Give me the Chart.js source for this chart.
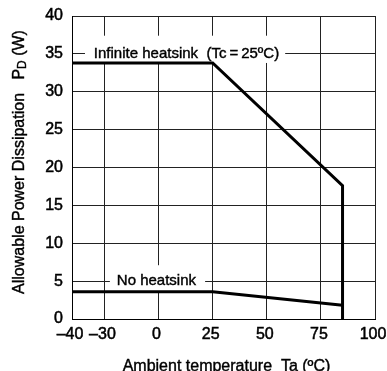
<!DOCTYPE html>
<html>
<head>
<meta charset="utf-8">
<script src="https://cdn.jsdelivr.net/npm/chart.js@4.4.0/dist/chart.umd.min.js"></script>
<style>
html, body { margin: 0; padding: 0; background: #fff; }
#wrap { width: 387px; height: 371px; }
</style>
</head>
<body>
<div id="wrap"><canvas id="deratingChart"></canvas></div>
<script>
// Axis ticks (the "-30" gridline sits at the -25 position in the original sheet)
const tickValues = [-40, -25, 0, 25, 50, 75, 100];
const tickLabels = ['–40', '–30', '0', '25', '50', '75', '100'];

// Curves
const infiniteTemp = [-40, 25, 85, 85];
const infinitePower = [33.8, 33.8, 17.6, 0];
const noSinkTemp = [-40, 25, 85];
const noSinkPower = [3.6, 3.6, 1.8];

const FONT = '"Liberation Sans", Arial, Helvetica, sans-serif';

// curve labels, anchored in data units; box = [xFrom, xTo, yTop, yBottom]
const curveNotes = [
    { text: 'Infinite heatsink  (Tc\u2009=\u200925ºC)', x: 12.9, y: 35, box: [-34, 58.5, 37.4, 33.8] },
    { text: 'No heatsink', x: -1, y: 5, box: [-22.5, 21.5, 7.1, 3.6] }
];

function toPoints(xs, ys) {
    return xs.map((x, i) => ({ x: x, y: ys[i] }));
}

// fill + thin stroke so the text reads as heavy as the scanned sheet
function boldText(ctx, text, x, y) {
    ctx.fillText(text, x, y);
    ctx.strokeText(text, x, y);
}

const notesPlugin = {
    id: 'notes',
    beforeDatasetsDraw(chart) {
        const { ctx, scales: { x, y } } = chart;
        ctx.save();
        ctx.fillStyle = '#fff';
        curveNotes.forEach(n => {
            const x0 = x.getPixelForValue(n.box[0]);
            const x1 = x.getPixelForValue(n.box[1]);
            const y0 = y.getPixelForValue(n.box[2]);
            const y1 = y.getPixelForValue(n.box[3]);
            ctx.fillRect(x0, y0, x1 - x0, y1 - y0);
        });
        ctx.restore();
    },
    afterDatasetsDraw(chart) {
        const { ctx, scales: { x, y } } = chart;
        ctx.save();
        ctx.fillStyle = '#000';
        ctx.strokeStyle = '#000';
        ctx.lineWidth = 0.4;
        ctx.font = '15px ' + FONT;
        ctx.textAlign = 'center';
        ctx.textBaseline = 'middle';
        curveNotes.forEach(n => {
            boldText(ctx, n.text, x.getPixelForValue(n.x), y.getPixelForValue(n.y));
        });
        ctx.restore();
    },
    afterDraw(chart) {
        const { ctx, chartArea } = chart;
        ctx.save();
        ctx.fillStyle = '#000';
        ctx.strokeStyle = '#000';
        ctx.lineWidth = 0.4;
        ctx.font = '16px ' + FONT;

        // x title
        ctx.textAlign = 'center';
        ctx.textBaseline = 'alphabetic';
        boldText(ctx, 'Ambient temperature  Ta (ºC)', (chartArea.left + chartArea.right) / 2 + 3, 371);

        // y title with subscript D
        const parts = ['Allowable Power Dissipation   P', 'D', ' (W)'];
        ctx.translate(20, 162);
        ctx.rotate(-Math.PI / 2);
        ctx.textAlign = 'left';
        ctx.textBaseline = 'middle';
        ctx.font = '16px ' + FONT;
        const w0 = ctx.measureText(parts[0]).width;
        const w2 = ctx.measureText(parts[2]).width;
        ctx.font = '12px ' + FONT;
        const w1 = ctx.measureText(parts[1]).width;
        let cx = -(w0 + w1 + w2) / 2;
        ctx.font = '16px ' + FONT;
        boldText(ctx, parts[0], cx, 0);
        cx += w0;
        ctx.font = '12px ' + FONT;
        boldText(ctx, parts[1], cx, 3);
        cx += w1;
        ctx.font = '16px ' + FONT;
        boldText(ctx, parts[2], cx, 0);
        ctx.restore();
    }
};

const ctx = document.getElementById('deratingChart').getContext('2d');
new Chart(ctx, {
    type: 'scatter',
    data: {
        datasets: [{
            label: 'Infinite heatsink',
            data: toPoints(infiniteTemp, infinitePower),
            showLine: true,
            borderColor: '#000',
            borderWidth: 3,
            borderJoinStyle: 'miter',
            pointRadius: 0,
            tension: 0,
            clip: { left: 2, right: 2, top: 2, bottom: 0 }
        }, {
            label: 'No heatsink',
            data: toPoints(noSinkTemp, noSinkPower),
            showLine: true,
            borderColor: '#000',
            borderWidth: 3,
            borderJoinStyle: 'miter',
            pointRadius: 0,
            tension: 0,
            clip: { left: 2, right: 2, top: 2, bottom: 0 }
        }]
    },
    options: {
        responsive: true,
        maintainAspectRatio: false,
        animation: false,
        layout: { padding: { top: 16, right: 12, left: 0, bottom: 0 } },
        plugins: {
            legend: { display: false },
            tooltip: { enabled: false }
        },
        scales: {
            x: {
                type: 'linear',
                min: -40,
                max: 100,
                afterBuildTicks: (scale) => {
                    scale.ticks = tickValues.map(v => ({ value: v }));
                },
                afterFit: (scale) => {
                    scale.height = 52;
                    scale.paddingLeft = 0;
                    scale.paddingRight = 0;
                },
                ticks: {
                    autoSkip: false,
                    maxRotation: 0,
                    padding: 6,
                    labelOffset: -2,
                    color: '#000',
                    textStrokeColor: '#000',
                    textStrokeWidth: 0.5,
                    font: { family: FONT, size: 16 },
                    callback: (v) => tickLabels[tickValues.indexOf(v)]
                },
                grid: { color: '#222', lineWidth: 1, drawTicks: false },
                border: { color: '#000', width: 1 }
            },
            y: {
                min: 0,
                max: 40,
                afterFit: (scale) => {
                    scale.width = 72;
                    scale.paddingTop = 0;
                    scale.paddingBottom = 0;
                },
                ticks: {
                    stepSize: 5,
                    padding: 9,
                    color: '#000',
                    textStrokeColor: '#000',
                    textStrokeWidth: 0.5,
                    font: { family: FONT, size: 16 }
                },
                grid: { color: '#222', lineWidth: 1, drawTicks: false },
                border: { color: '#000', width: 1 }
            }
        }
    },
    plugins: [notesPlugin]
});
</script>
</body>
</html>
